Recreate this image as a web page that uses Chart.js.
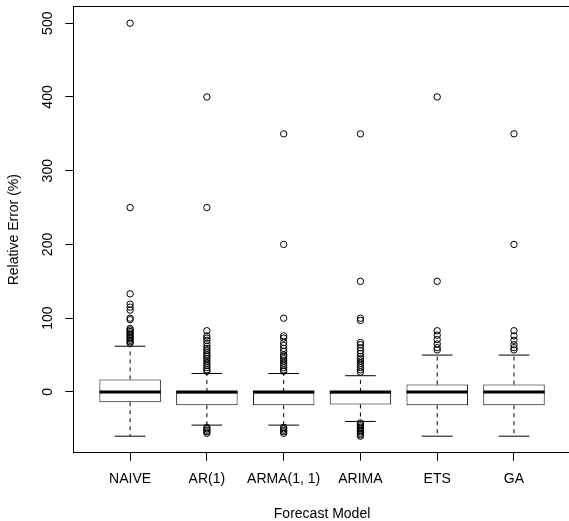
<!DOCTYPE html>
<html>
<head>
<meta charset="utf-8">
<script src="https://cdn.jsdelivr.net/npm/chart.js@4/dist/chart.umd.min.js"></script>
<style>
html, body { margin: 0; padding: 0; background: #fff; overflow: hidden; }
#grafico { display: block; }
</style>
</head>
<body>
<canvas id="grafico" width="600" height="521"></canvas>
<script>
const models = ['NAIVE', 'AR(1)', 'ARMA(1, 1)', 'ARIMA', 'ETS', 'GA'];
const yTicks = [0, 100, 200, 300, 400, 500];

const q1 = [-14, -18, -18, -17, -18, -18];
const medians = [0, 0, 0, 0, 0, 0];
const q3 = [17, 0, 0, 0, 10, 10];
const whiskerLow = [-60, -45, -45, -40, -60, -60];
const whiskerHigh = [62, 25, 25, 22, 50, 50];

const outNaive = [500, 250, 133, 119, 115, 111, 100, 98, 86, 84, 82, 80, 78, 76, 74, 72, 70, 68, 66];
const outAr1 = [400, 250, 83, 76, 73, 70, 66, 62, 59, 56, 53, 50, 48, 45, 42, 39, 36, 33, 30, 28, -48, -50, -52, -54, -56];
const outArma = [350, 200, 100, 76, 73, 67, 63, 59, 55, 50, 48, 45, 42, 39, 36, 33, 30, 28, -48, -50, -52, -54, -56];
const outArima = [350, 150, 100, 97, 67, 64, 60, 56, 52, 48, 45, 42, 39, 36, 33, 30, 27, -42, -44, -46, -48, -50, -52, -54, -56, -58, -60];
const outEts = [400, 150, 83, 77, 71, 65, 60, 57];
const outGa = [350, 200, 83, 76, 70, 64, 60, 57];
const outliers = [outNaive, outAr1, outArma, outArima, outEts, outGa];

// largura da caixa e da barrinha do bigode, em unidades do eixo x
const meiaCaixa = 0.4;
const meiaBarra = 0.2;
const preto = '#000';
const fonte = { family: '"Liberation Sans", Arial, Helvetica, sans-serif', size: 14 };

const dadosMediana = models.flatMap((m, i) => [
    { x: i + 1 - meiaCaixa, y: medians[i] },
    { x: i + 1 + meiaCaixa, y: medians[i] },
    { x: i + 1, y: null }
]);
const dadosBigode = models.flatMap((m, i) => [
    { x: i + 1, y: q3[i] }, { x: i + 1, y: whiskerHigh[i] }, { x: i + 1, y: null },
    { x: i + 1, y: q1[i] }, { x: i + 1, y: whiskerLow[i] }, { x: i + 1, y: null }
]);
const dadosBarra = models.flatMap((m, i) => [
    { x: i + 1 - meiaBarra, y: whiskerHigh[i] }, { x: i + 1 + meiaBarra, y: whiskerHigh[i] }, { x: i + 1, y: null },
    { x: i + 1 - meiaBarra, y: whiskerLow[i] }, { x: i + 1 + meiaBarra, y: whiskerLow[i] }, { x: i + 1, y: null }
]);
const dadosCaixa = models.map((m, i) => ({ x: i + 1, y: [q1[i], q3[i]] }));
const dadosPontos = outliers.flatMap((lista, i) => lista.map(v => ({ x: i + 1, y: v })));

// tamanho fixo de cada eixo, sem a folga que o Chart.js reserva para os rótulos
function fixar(tam) {
    return s => {
        if (s.isHorizontal()) s.height = tam; else s.width = tam;
        s.paddingTop = 0; s.paddingBottom = 0; s.paddingLeft = 0; s.paddingRight = 0;
    };
}

const ctx = document.getElementById('grafico').getContext('2d');
new Chart(ctx, {
    type: 'bar',
    data: {
        datasets: [
            { type: 'line', data: dadosMediana, borderColor: preto, borderWidth: 3, pointRadius: 0, fill: false, spanGaps: false },
            { type: 'scatter', data: dadosPontos, showLine: false, pointStyle: 'circle', pointRadius: 3.2,
              pointBorderWidth: 1, borderColor: preto, backgroundColor: 'rgba(0,0,0,0)' },
            { type: 'bar', data: dadosCaixa, backgroundColor: '#fff', borderColor: preto, borderWidth: 1,
              borderSkipped: false, barPercentage: 0.8, categoryPercentage: 1 },
            { type: 'line', data: dadosBarra, borderColor: preto, borderWidth: 1, pointRadius: 0, fill: false, spanGaps: false },
            { type: 'line', data: dadosBigode, borderColor: preto, borderWidth: 1, borderDash: [4, 4], pointRadius: 0, fill: false, spanGaps: false }
        ]
    },
    options: {
        responsive: false,
        animation: false,
        events: [],
        layout: { padding: { left: 0, top: 0, bottom: 0, right: 29.2 } },
        plugins: { legend: { display: false }, tooltip: { enabled: false } },
        scales: {
            x: {
                type: 'linear', min: 0.26, max: 6.74, offset: false,
                afterBuildTicks: s => { s.ticks = models.map((m, i) => ({ value: i + 1 })); },
                afterFit: fixar(68.3),
                ticks: { callback: v => models[v - 1], font: fonte, color: preto, padding: 10, maxRotation: 0, autoSkip: false },
                grid: { display: true, drawOnChartArea: false, drawTicks: true, tickLength: 8, color: preto, offset: false },
                border: { display: true, color: preto, width: 1 },
                title: { display: true, text: 'Forecast Model', font: { ...fonte, lineHeight: 1 }, color: preto, padding: 0 }
            },
            xTopo: {
                axis: 'x', type: 'linear', position: 'top', min: 0.26, max: 6.74, offset: false,
                afterFit: fixar(6.7),
                ticks: { display: false },
                grid: { display: false },
                border: { display: true, color: preto, width: 1 }
            },
            y: {
                type: 'linear', min: -82.4, max: 522.4,
                afterBuildTicks: s => { s.ticks = yTicks.map(v => ({ value: v })); },
                afterFit: fixar(73.3),
                ticks: { font: fonte, color: preto, padding: 5, minRotation: 90, maxRotation: 90, crossAlign: 'center' },
                grid: { display: true, drawOnChartArea: false, drawTicks: true, tickLength: 8, color: preto },
                border: { display: true, color: preto, width: 1 },
                title: { display: true, text: 'Relative Error (%)', font: { ...fonte, lineHeight: 1 }, color: preto, padding: { top: 7.5, bottom: 0 } }
            }
        }
    }
});
</script>
</body>
</html>
